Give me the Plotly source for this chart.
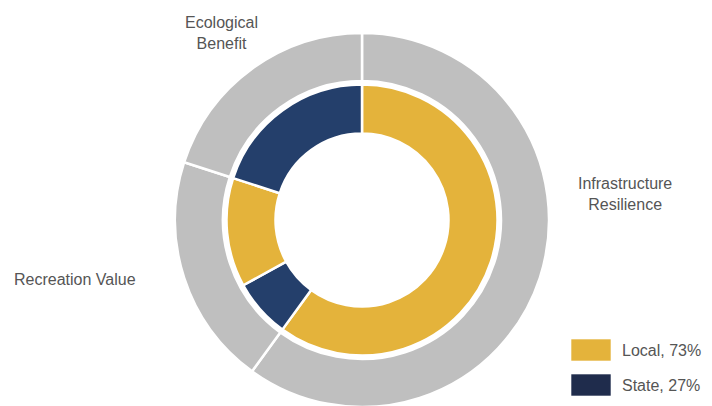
import plotly.graph_objects as go

# ---- data ----
categories = ["Infrastructure Resilience", "Recreation Value", "Ecological Benefit"]
category_values = [60, 20, 20]

inner_category = ["Infrastructure Resilience", "Recreation Value", "Recreation Value", "Ecological Benefit"]
inner_source = ["Local", "State", "Local", "State"]
inner_values = [60, 7, 13, 20]

sources = ["Local", "State"]

# ---- style ----
W, H = 712, 406
OFF = 8  # page body margin
GRAY = "#BFBFBF"
SRC_COLORS = {"Local": "#E4B33B", "State": "#243F6B"}
LEGEND_COLORS = {"Local": "#E4B33B", "State": "#1F2C4C"}
TEXT = "#555555"
FONT = "Liberation Sans, Arial, sans-serif"
FS = 16

cx, cy = 362 - OFF, 220 - OFF
R_out, R_in = 187, 135.5


def px(x, y):
    return (x - OFF) / W, 1 - (y - OFF) / H


def dom(r):
    return dict(x=[(cx - r) / W, (cx + r) / W], y=[1 - (cy + r) / H, 1 - (cy - r) / H])


fig = go.Figure()
fig.add_trace(go.Pie(
    labels=categories, values=category_values, sort=False, direction="clockwise", rotation=0,
    hole=139 / R_out, domain=dom(R_out), textinfo="none", hoverinfo="label+percent",
    marker=dict(colors=[GRAY] * len(categories), line=dict(color="white", width=2.5)),
    showlegend=False,
))
fig.add_trace(go.Pie(
    labels=[f"{c} - {s}" for c, s in zip(inner_category, inner_source)], values=inner_values,
    sort=False, direction="clockwise", rotation=0,
    hole=86.5 / R_in, domain=dom(R_in), textinfo="none", hoverinfo="label+value",
    marker=dict(colors=[SRC_COLORS[s] for s in inner_source], line=dict(color="white", width=2.5)),
    showlegend=False,
))

# category labels
label_pos = {
    "Infrastructure Resilience": (625, 194),
    "Recreation Value": (75, 279),
    "Ecological Benefit": (221, 33),
}
for c in categories:
    x, y = px(*label_pos[c])
    fig.add_annotation(x=x, y=y, xref="paper", yref="paper",
                       text="<br>".join(c.split(" ")) if c != "Recreation Value" else c,
                       showarrow=False, xanchor="center", yanchor="middle",
                       font=dict(family=FONT, size=FS, color=TEXT))

# legend
total = sum(inner_values)
for i, s in enumerate(sources):
    pct = round(100 * sum(v for v, src in zip(inner_values, inner_source) if src == s) / total)
    y0 = 339 + i * 35
    x0p, y1p = px(571, y0)
    x1p, y0p = px(611, y0 + 22)
    fig.add_shape(type="rect", xref="paper", yref="paper",
                  x0=x0p, x1=x1p, y0=y0p, y1=y1p,
                  fillcolor=LEGEND_COLORS[s], line=dict(color="rgba(255,255,255,0.6)", width=1))
    tx, ty = px(620, y0 + 11)
    fig.add_annotation(x=tx, y=ty, xref="paper", yref="paper",
                       text=f"{s}, {pct}%", showarrow=False, xanchor="left", yanchor="middle",
                       font=dict(family=FONT, size=FS, color=TEXT))

fig.update_layout(width=W, height=H, margin=dict(l=0, r=0, t=0, b=0),
                  paper_bgcolor="white", plot_bgcolor="white")
fig.write_html("out.html")
